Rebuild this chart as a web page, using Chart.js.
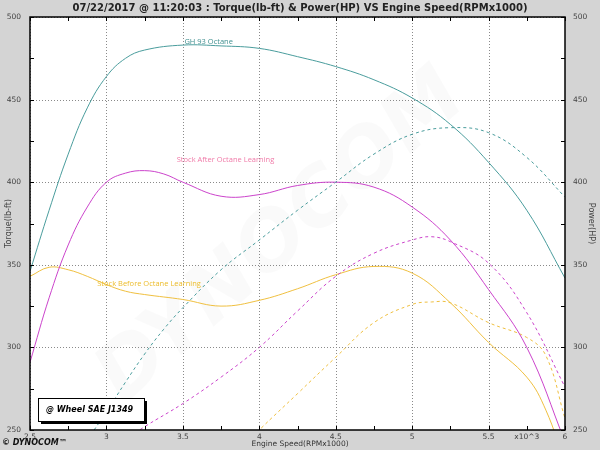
<!DOCTYPE html>
<html>
<head>
<meta charset="utf-8">
<script src="https://cdn.jsdelivr.net/npm/chart.js@4.4.0/dist/chart.umd.min.js"></script>
<style>
  html, body { margin: 0; padding: 0; background: #d4d4d4; }
</style>
</head>
<body>
<canvas id="dyno" width="600" height="450"></canvas>
<script>
// GH 93 Octane
const gh93TqRpm = [2.5, 2.625, 2.75, 2.875, 3.0, 3.125, 3.25, 3.5, 3.75, 4.0, 4.25, 4.5, 4.75, 5.0, 5.25, 5.5, 5.75, 6.0];
const gh93Tq    = [346, 383, 417, 445, 464, 475, 480, 483, 482.5, 481, 476, 470, 462, 451, 435, 412, 383, 342];
const gh93HpRpm = [2.875, 3.0, 3.125, 3.25, 3.375, 3.5, 3.75, 4.0, 4.25, 4.5, 4.75, 5.0, 5.25, 5.5, 5.75, 6.0];
const gh93Hp    = [244, 261, 279, 296, 311, 324, 347, 365, 383, 400, 417, 429, 433, 430, 415, 391];

// Stock After Octane Learning
const afterTqRpm = [2.5, 2.625, 2.75, 2.875, 3.0, 3.125, 3.25, 3.375, 3.5, 3.75, 4.0, 4.25, 4.5, 4.75, 5.0, 5.25, 5.5, 5.75, 6.0];
const afterTq    = [291, 330, 362, 385, 400, 405.5, 407, 405, 400, 391.5, 392.5, 398, 400, 397, 385, 365, 335, 300, 243];
const afterHpRpm = [3.125, 3.25, 3.5, 3.75, 4.0, 4.25, 4.5, 4.75, 5.0, 5.125, 5.25, 5.5, 5.75, 6.0];
const afterHp    = [244, 252, 266, 282, 300, 322, 343, 357, 365, 367, 364, 351, 321, 276];

// Stock Before Octane Learning
const beforeTqRpm = [2.5, 2.625, 2.75, 2.875, 3.0, 3.125, 3.25, 3.5, 3.75, 4.0, 4.25, 4.5, 4.75, 5.0, 5.25, 5.5, 5.75, 5.875, 6.0];
const beforeTq    = [343, 348.5, 347, 343, 338, 334, 332, 329, 325, 328.5, 335.5, 344, 349, 345, 327, 303, 282, 262, 230];
const beforeHpRpm = [3.875, 4.0, 4.25, 4.5, 4.75, 5.0, 5.125, 5.25, 5.5, 5.75, 5.875, 6.0];
const beforeHp    = [238, 250, 272, 294, 315, 326, 327.5, 327, 315, 306, 295, 257];

const titleText = '07/22/2017 @ 11:20:03 : Torque(lb-ft) & Power(HP) VS Engine Speed(RPMx1000)';

const TEAL = '#4a9d9d';
const MAGENTA = '#cc44cc';
const YELLOW = '#f0c040';

// curve labels sit at [rpm, torque]
const curveLabels = [
  { text: 'GH 93 Octane', at: [3.51, 485], color: '#3f8f8f' },
  { text: 'Stock After Octane Learning', at: [3.46, 413.5], color: '#f07aa8' },
  { text: 'Stock Before Octane Learning', at: [2.94, 338.5], color: '#ecbc2a' }
];

function pts(xs, ys) {
  return xs.map((x, i) => ({ x: x, y: ys[i] }));
}

function isMajor(v, step) {
  const r = v / step;
  return Math.abs(r - Math.round(r)) < 1e-6;
}

const tickFont = { family: 'DejaVu Sans', size: 7.5 };

const dynoDecor = {
  id: 'dynoDecor',
  beforeDraw(chart) {
    const { ctx, chartArea: a } = chart;
    ctx.save();
    ctx.fillStyle = '#d4d4d4';
    ctx.fillRect(0, 0, chart.width, chart.height);
    ctx.fillStyle = '#ffffff';
    ctx.fillRect(a.left, a.top, a.right - a.left, a.bottom - a.top);
    ctx.restore();
  },
  beforeDatasetsDraw(chart) {
    const { ctx, chartArea: a, scales } = chart;
    ctx.save();
    ctx.beginPath();
    ctx.rect(a.left, a.top, a.right - a.left, a.bottom - a.top);
    ctx.clip();

    // watermark
    ctx.save();
    ctx.translate((a.left + a.right) / 2 - 15, (a.top + a.bottom) / 2 + 15);
    ctx.rotate(-0.72);
    ctx.font = 'italic bold 80px "DejaVu Sans"';
    ctx.fillStyle = 'rgba(0,0,0,0.018)';
    ctx.textAlign = 'center';
    ctx.textBaseline = 'middle';
    ctx.fillText('DYNOCOM', 0, 0);
    ctx.restore();

    // dotted grid at major ticks
    ctx.strokeStyle = '#8a8a8a';
    ctx.lineWidth = 1;
    ctx.setLineDash([1, 2]);
    scales.x.ticks.forEach(t => {
      if (!isMajor(t.value, 0.5)) return;
      const px = Math.round(scales.x.getPixelForValue(t.value)) + 0.5;
      ctx.beginPath();
      ctx.moveTo(px, a.top);
      ctx.lineTo(px, a.bottom);
      ctx.stroke();
    });
    scales.y.ticks.forEach(t => {
      if (!isMajor(t.value, 50)) return;
      const py = Math.round(scales.y.getPixelForValue(t.value)) + 0.5;
      ctx.beginPath();
      ctx.moveTo(a.left, py);
      ctx.lineTo(a.right, py);
      ctx.stroke();
    });
    ctx.restore();
  },
  afterDatasetsDraw(chart) {
    const { ctx, chartArea: a, scales } = chart;
    ctx.save();

    // frame
    ctx.strokeStyle = '#000';
    ctx.lineWidth = 1.5;
    ctx.strokeRect(a.left, a.top, a.right - a.left, a.bottom - a.top);

    // inward tick marks
    ctx.lineWidth = 1;
    const tl = 4;
    scales.x.ticks.forEach(t => {
      const px = Math.round(scales.x.getPixelForValue(t.value)) + 0.5;
      ctx.beginPath();
      ctx.moveTo(px, a.bottom); ctx.lineTo(px, a.bottom - tl);
      ctx.moveTo(px, a.top); ctx.lineTo(px, a.top + tl);
      ctx.stroke();
    });
    scales.y.ticks.forEach(t => {
      const py = Math.round(scales.y.getPixelForValue(t.value)) + 0.5;
      ctx.beginPath();
      ctx.moveTo(a.left, py); ctx.lineTo(a.left + tl, py);
      ctx.moveTo(a.right, py); ctx.lineTo(a.right - tl, py);
      ctx.stroke();
    });

    // curve labels
    ctx.font = '7.5px "Open Sans"';
    ctx.textBaseline = 'middle';
    ctx.textAlign = 'left';
    curveLabels.forEach(l => {
      ctx.fillStyle = l.color;
      ctx.fillText(l.text, scales.x.getPixelForValue(l.at[0]), scales.y.getPixelForValue(l.at[1]));
    });

    // SAE box with shadow
    const bx = a.left + 8, by = a.bottom - 32, bw = 106, bh = 23;
    ctx.fillStyle = '#000';
    ctx.fillRect(bx + 3, by + 3, bw, bh);
    ctx.fillStyle = '#fff';
    ctx.fillRect(bx, by, bw, bh);
    ctx.strokeStyle = '#000';
    ctx.lineWidth = 1;
    ctx.strokeRect(bx + 0.5, by + 0.5, bw, bh);
    ctx.fillStyle = '#000';
    ctx.font = 'italic bold 8px "DejaVu Sans"';
    ctx.fillText('@ Wheel SAE J1349', bx + 8, by + bh / 2);
    ctx.restore();
  },
  afterDraw(chart) {
    const { ctx } = chart;
    ctx.save();
    ctx.fillStyle = '#222';
    ctx.textAlign = 'center';
    ctx.textBaseline = 'middle';
    ctx.font = 'bold 10px "DejaVu Sans"';
    ctx.fillText(titleText, chart.width / 2, 8);

    ctx.fillStyle = '#333';
    ctx.font = '7.5px "DejaVu Sans"';
    ctx.fillText('Engine Speed(RPMx1000)', chart.width / 2, 444);

    ctx.textAlign = 'left';
    ctx.fillStyle = '#111';
    ctx.font = 'italic bold 8px "DejaVu Sans"';
    ctx.fillText('\u00A9 DYNOCOM\u2122', 2, 443);
    ctx.restore();
  }
};

new Chart(document.getElementById('dyno'), {
  type: 'line',
  data: {
    datasets: [
      { label: 'GH 93 Octane Torque', data: pts(gh93TqRpm, gh93Tq), borderColor: TEAL, yAxisID: 'y' },
      { label: 'GH 93 Octane Power', data: pts(gh93HpRpm, gh93Hp), borderColor: TEAL, borderDash: [3, 3], yAxisID: 'y2' },
      { label: 'Stock After Torque', data: pts(afterTqRpm, afterTq), borderColor: MAGENTA, yAxisID: 'y' },
      { label: 'Stock After Power', data: pts(afterHpRpm, afterHp), borderColor: MAGENTA, borderDash: [3, 3], yAxisID: 'y2' },
      { label: 'Stock Before Torque', data: pts(beforeTqRpm, beforeTq), borderColor: YELLOW, yAxisID: 'y' },
      { label: 'Stock Before Power', data: pts(beforeHpRpm, beforeHp), borderColor: YELLOW, borderDash: [3, 3], yAxisID: 'y2' }
    ]
  },
  options: {
    responsive: false,
    animation: false,
    layout: { padding: { top: 17, left: 0, right: 0, bottom: 0 } },
    elements: {
      point: { radius: 0 },
      line: { tension: 0.4, borderWidth: 1, fill: false }
    },
    plugins: {
      legend: { display: false },
      tooltip: { enabled: false },
      title: { display: false }
    },
    scales: {
      x: {
        type: 'linear', min: 2.5, max: 6,
        grid: { display: false, drawTicks: false },
        border: { display: false },
        ticks: {
          stepSize: 0.25, autoSkip: false, maxRotation: 0, padding: 3,
          font: tickFont, color: '#444',
          callback: v => isMajor(v, 0.5) ? String(v) : (Math.abs(v - 5.75) < 1e-6 ? 'x10^3' : '')
        },
        afterFit: s => { s.height = 20; }
      },
      y: {
        position: 'left', min: 250, max: 500,
        grid: { display: false, drawTicks: false },
        border: { display: false },
        ticks: {
          stepSize: 25, autoSkip: false, padding: 9,
          font: tickFont, color: '#444',
          callback: v => isMajor(v, 50) ? String(v) : ''
        },
        title: { display: true, text: 'Torque(lb-ft)', color: '#444', font: { family: 'DejaVu Sans', size: 8 }, padding: 4 },
        afterFit: s => { s.width = 30; }
      },
      y2: {
        position: 'right', min: 250, max: 500,
        grid: { display: false, drawTicks: false },
        border: { display: false },
        ticks: {
          stepSize: 25, autoSkip: false, padding: 8,
          font: tickFont, color: '#444',
          callback: v => isMajor(v, 50) ? String(v) : ''
        },
        title: { display: true, text: 'Power(HP)', color: '#444', font: { family: 'DejaVu Sans', size: 8 }, padding: 4 },
        afterFit: s => { s.width = 35; }
      }
    }
  },
  plugins: [dynoDecor]
});
</script>
</body>
</html>
